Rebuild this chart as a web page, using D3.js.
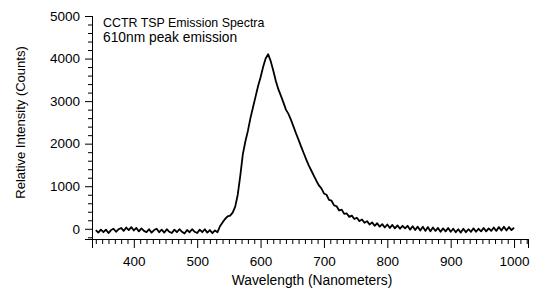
<!DOCTYPE html>
<html>
<head>
<meta charset="utf-8">
<script src="https://cdn.jsdelivr.net/npm/d3@7"></script>
<style>
  body { margin: 0; background: #fff; }
  text { font-family: "Liberation Sans", Arial, sans-serif; fill: #000; }
</style>
</head>
<body>
<script>
// spectrum, 4 nm steps from 340 nm
var startNm = 340
var stepNm = 4
var counts = [
  -30, -90, -20, -80, -20, -100, -30, 0, -70, -10,
  20, -50, 30, -30, 40, -40, 20, -60, 10, -50,
  -80, -10, -90, -30, 0, -80, -20, -90, -10, -70,
  -100, -20, -80, -10, -70, -110, -30, -80, -10, -70,
  -100, -20, -80, -10, -90, -30, -100, -40, -80,
  60, 150, 230, 290, 310, 380, 520, 800, 1250, 1750,
  2050, 2300, 2600, 2850, 3100, 3350, 3560, 3800, 4000, 4100,
  3940, 3720, 3480, 3280, 3130, 2970, 2800, 2700, 2560, 2400,
  2240, 2090, 1930, 1780, 1630, 1490, 1370, 1250, 1130, 1020,
  950, 830, 800, 680, 660, 550, 530, 430, 450, 350,
  360, 280, 310, 230, 260, 180, 220, 140, 180, 100,
  150, 70, 130, 50, 110, 30, 100, 20, 90, 10,
  80, 0, 70, 10, 70, -20, 60, -30, 50, -40,
  50, -50, 40, -60, 30, -50, 20, -70, 10, -60,
  20, -70, 0, -80, -10, -90, 0, -80, -10, -70,
  10, -70, 0, -60, 20, -60, 10, -50, 30, -50,
  40, -40, 50, -40, 40, -30, 30
]
var spectrum = counts.map(function(c, i){ return [startNm + i * stepNm, c] })

var titleLines = ['CCTR TSP Emission Spectra', '610nm peak emission']
var xMajor = [400, 500, 600, 700, 800, 900, 1000]
var yMajor = [0, 1000, 2000, 3000, 4000, 5000]

var W = 539, H = 289
var svg = d3.select('body').append('svg')
  .attr('width', W).attr('height', H)

var x = d3.scaleLinear().domain([334, 1022]).range([92, 528])
var y = d3.scaleLinear().domain([-240, 5000]).range([239, 16])

// minor ticks
var xMinor = d3.range(340, 1021, 10).filter(function(v){ return v % 100 !== 0 })
var yMinor = d3.range(-200, 5000, 200).filter(function(v){ return v % 1000 !== 0 })

var gx = svg.append('g').attr('transform', 'translate(0,239)')
gx.call(d3.axisBottom(x).tickValues(xMinor).tickSize(5).tickFormat(''))
gx.append('g').call(d3.axisBottom(x).tickValues(xMajor).tickSize(9).tickPadding(8).tickFormat(d3.format('d')))
gx.selectAll('text').style('font-size', '13.5px').attr('fill', '#000')

var gy = svg.append('g').attr('transform', 'translate(92,0)')
gy.call(d3.axisLeft(y).tickValues(yMinor).tickSize(4).tickFormat(''))
gy.append('g').call(d3.axisLeft(y).tickValues(yMajor).tickSize(7).tickPadding(5).tickFormat(d3.format('d')))
gy.selectAll('text').style('font-size', '13.5px').attr('fill', '#000')

svg.selectAll('.domain').attr('stroke', '#000')
svg.selectAll('.tick line').attr('stroke', '#000')

var line = d3.line()
  .x(function(d){ return x(d[0]) })
  .y(function(d){ return y(d[1]) })

svg.append('path').datum(spectrum)
  .attr('d', line)
  .attr('fill', 'none')
  .attr('stroke', '#000')
  .attr('stroke-width', 1.8)
  .attr('stroke-linejoin', 'round')

svg.append('text').attr('x', 103).attr('y', 26.5)
  .style('font-size', '12.4px').text(titleLines[0])
svg.append('text').attr('x', 103).attr('y', 41.5)
  .style('font-size', '13.8px').text(titleLines[1])

svg.append('text')
  .attr('transform', 'translate(25,122.5) rotate(-90)')
  .attr('text-anchor', 'middle')
  .style('font-size', '13px')
  .text('Relative Intensity (Counts)')

svg.append('text')
  .attr('x', 312).attr('y', 285)
  .attr('text-anchor', 'middle')
  .style('font-size', '13.8px')
  .text('Wavelength (Nanometers)')
</script>
</body>
</html>
